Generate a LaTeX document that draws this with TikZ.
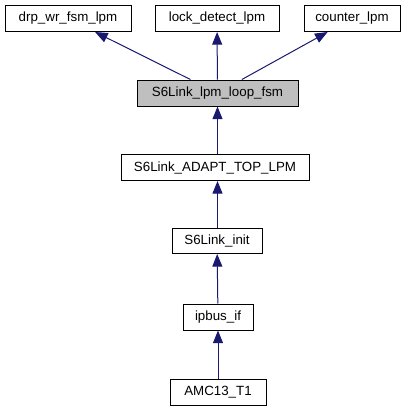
\documentclass[tikz,border=0pt]{standalone}
\usepackage{fontspec}
\setmainfont{Liberation Sans}
\usetikzlibrary{arrows.meta}
\tikzset{every picture/.style={line width=0.75pt}}
\definecolor{edgeblue}{RGB}{25,25,112}
\tikzset{
  classbox/.style={draw={rgb,255:red,0;green,0;blue,0}, fill=white, inner sep=0pt, minimum height=26*0.75pt, font=\fontsize{10}{12}\selectfont},
  curbox/.style={classbox, fill={rgb,255:red,191;green,191;blue,191}},
  inherit/.style={draw=edgeblue, line width=0.75pt, -{Triangle[length=9.5pt,width=7.5pt,fill=edgeblue]}}
}

\begin{document}
\begin{tikzpicture}[x=0.75pt,y=0.75pt,yscale=-1,xscale=1]
\useasboundingbox (0,0) rectangle (409,411);

% Base classes
\node [classbox, minimum width=126*0.75pt] (drp) at (68,18.5) {drp\_wr\_fsm\_lpm};
\node [classbox, minimum width=124*0.75pt] (lock) at (217,18.5) {lock\_detect\_lpm};
\node [classbox, minimum width=96*0.75pt] (counter) at (352,18.5) {counter\_lpm};
% Current class
\node [curbox, minimum width=161*0.75pt] (loop) at (217.5,93) {S6Link\_lpm\_loop\_fsm};
% Users
\node [classbox, minimum width=188*0.75pt] (adapt) at (215,167.5) {S6Link\_ADAPT\_TOP\_LPM};
\node [classbox, minimum width=90*0.75pt, minimum height=25*0.75pt] (init) at (217,241) {S6Link\_init};
\node [classbox, minimum width=70*0.75pt] (ipbus) at (218,317) {ipbus\_if};
\node [classbox, minimum width=96*0.75pt] (amc) at (218,392) {AMC13\_T1};

% Edges
\draw [inherit] (loop) -- (drp);
\draw [inherit] (loop) -- (lock);
\draw [inherit] (loop) -- (counter);
\draw [inherit] (adapt.north -| loop) -- (loop);
\draw [inherit] (init.north -| loop) -- (adapt.south -| loop);
\draw [inherit] (ipbus) -- (init);
\draw [inherit] (amc) -- (ipbus);

\end{tikzpicture}
\end{document}
